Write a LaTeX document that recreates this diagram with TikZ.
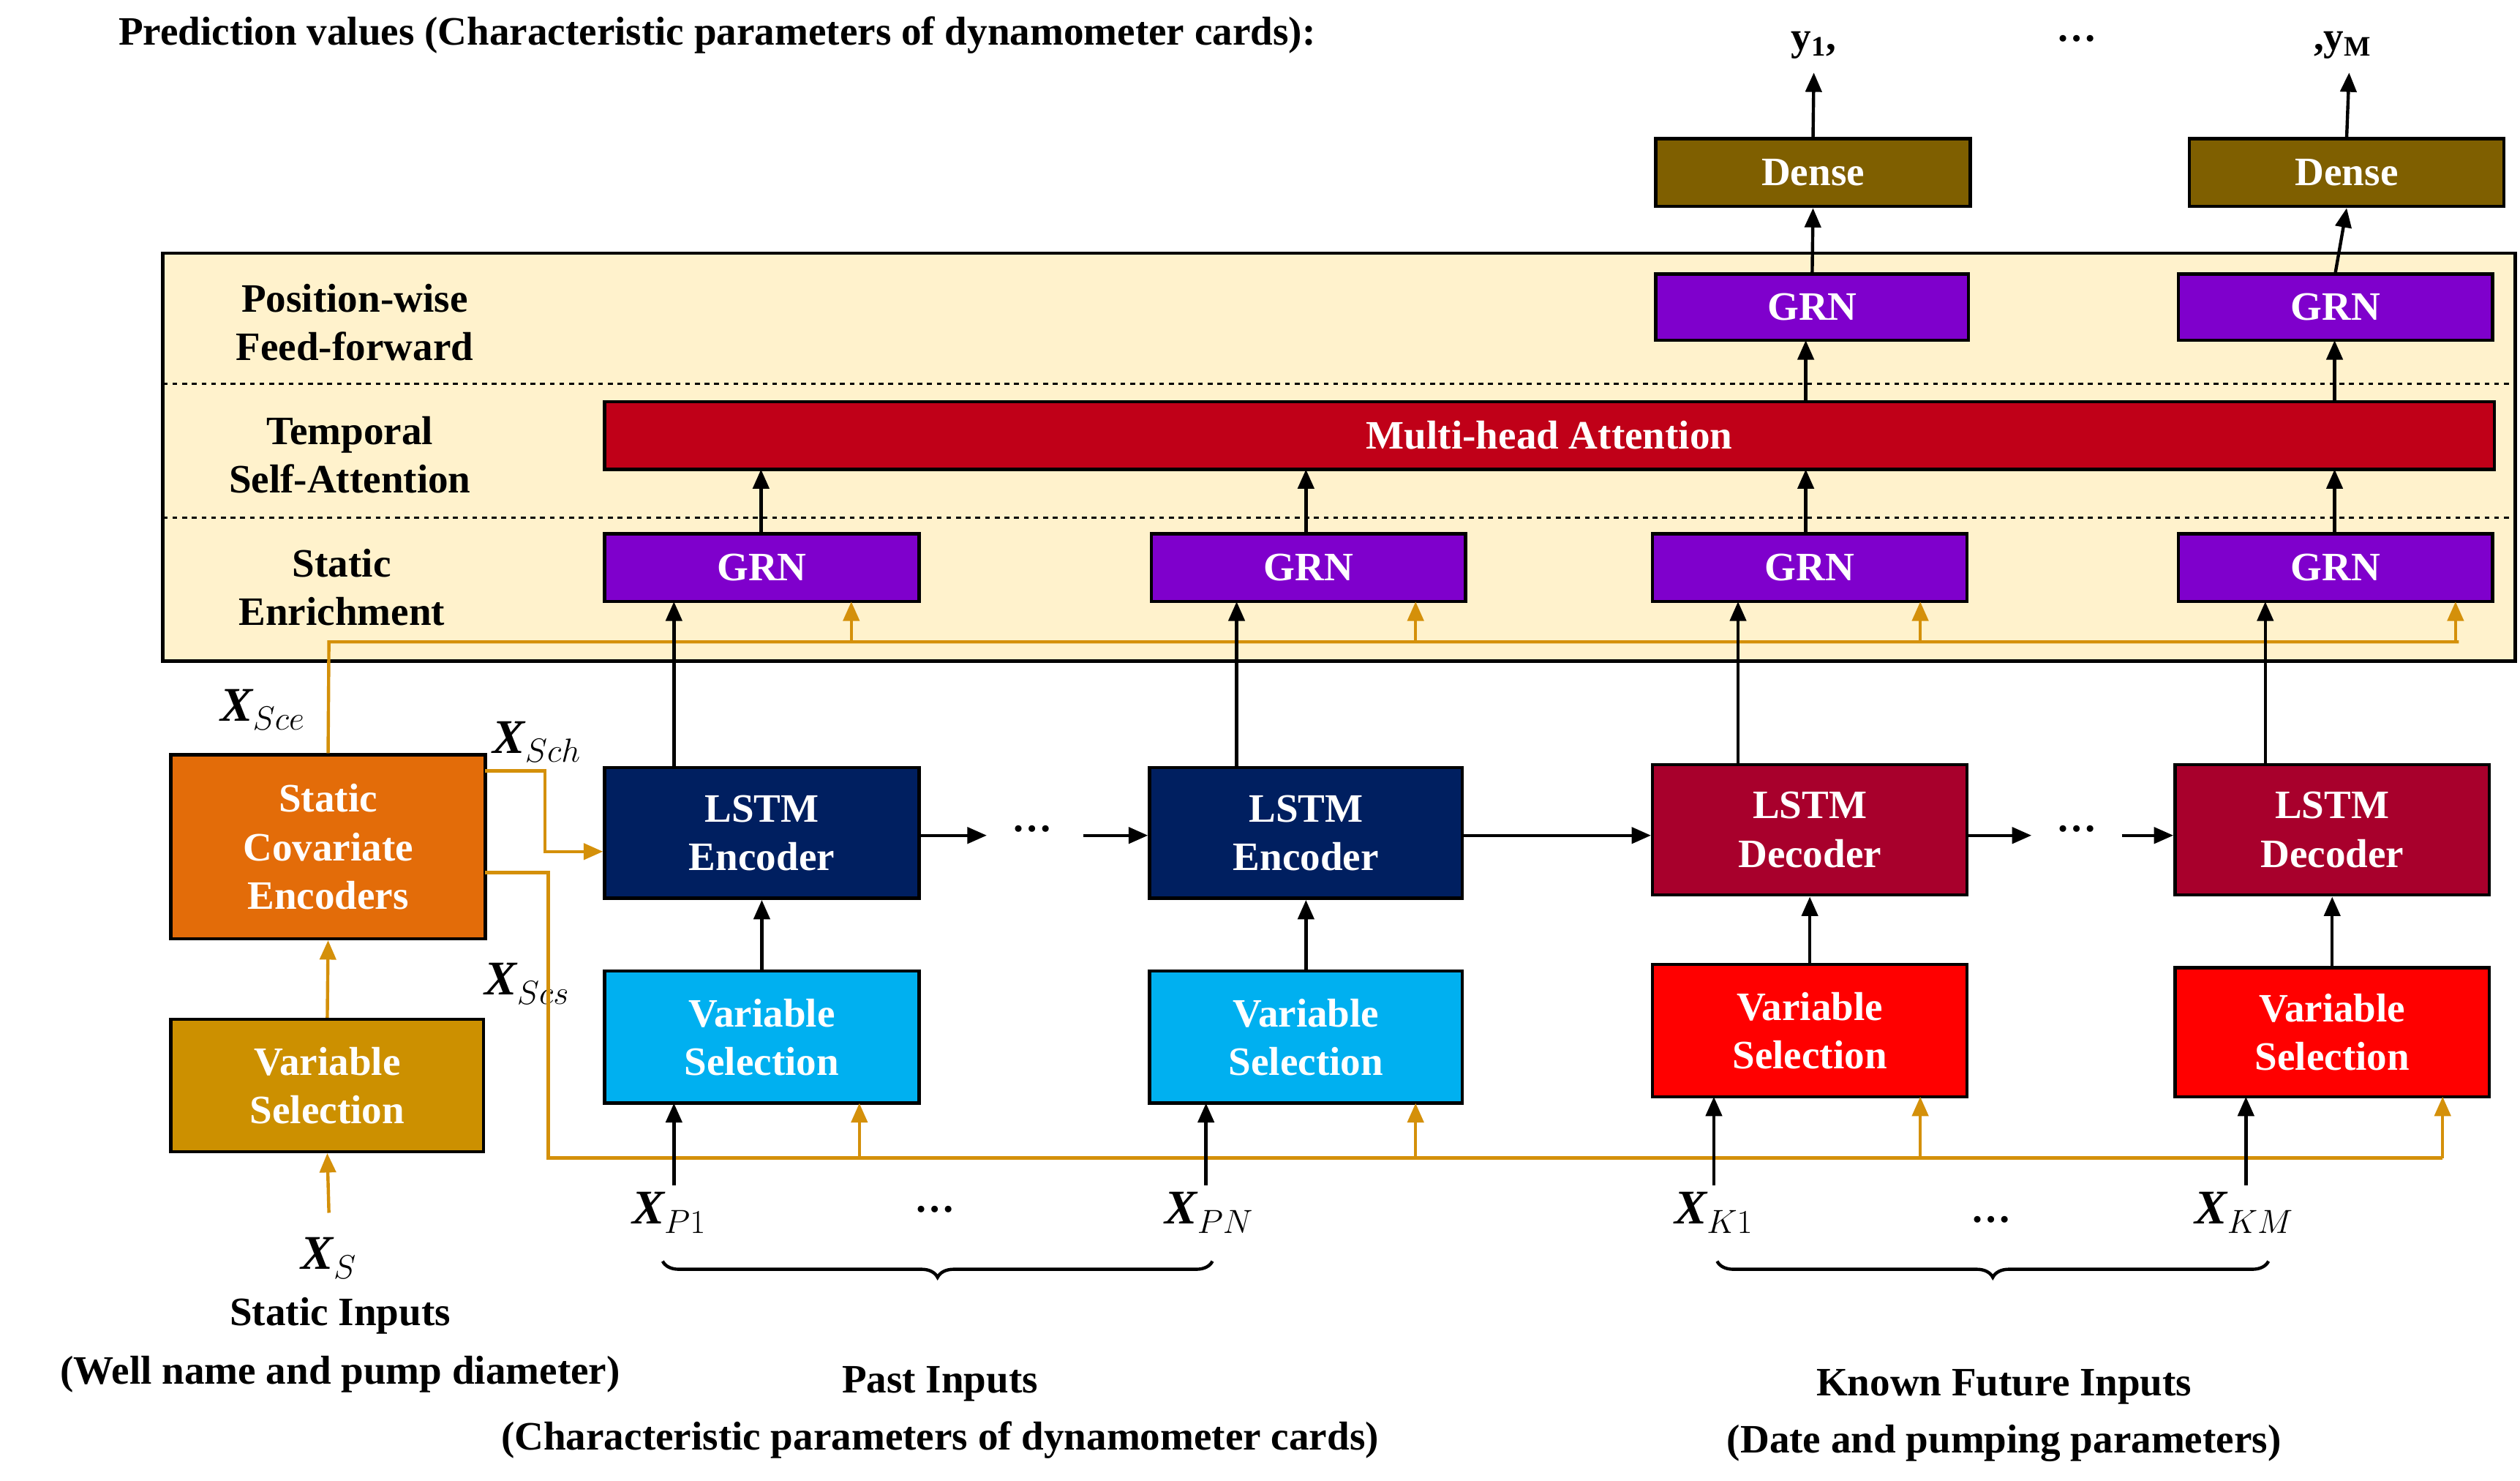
\documentclass[tikz,border=0pt]{standalone}
\usepackage{fontspec}
\setmainfont{Liberation Serif}
\usetikzlibrary{arrows.meta,decorations.pathreplacing}
\definecolor{panel}{HTML}{FFF2CC}
\definecolor{dense}{HTML}{7F5F00}
\definecolor{grn}{HTML}{7F00CC}
\definecolor{mha}{HTML}{C00018}
\definecolor{enc}{HTML}{001F60}
\definecolor{dec}{HTML}{A8002C}
\definecolor{vsp}{HTML}{00B0F0}
\definecolor{vsf}{HTML}{FF0000}
\definecolor{vss}{HTML}{CC9000}
\definecolor{sce}{HTML}{E36C09}
\definecolor{oline}{HTML}{D4900A}
\begin{document}
\begin{tikzpicture}[x=1pt,y=-1pt,
 txt/.style={font=\fontsize{25}{30}\selectfont\bfseries},
 box/.style={draw=black,line width=2pt,text=white,txt,align=center,inner sep=0pt},
 blk/.style={-{Triangle[length=12pt,width=10pt]},line width=2pt},
 org/.style={-{Triangle[length=12pt,width=10pt]},line width=2pt,draw=oline,color=oline},
 lab/.style={font=\fontsize{30}{34}\selectfont\bfseries\itshape}]
\useasboundingbox (0,0) rectangle (1563,918);
% panel
\node[draw=black,line width=2pt,fill=panel,minimum width=1459pt,minimum height=253pt,inner sep=0pt] (panel) at (830.5,283.5) {};
\draw[dashed,line width=1pt] (101,238) -- (1560,238) (101,321) -- (1560,321);
\node[txt,align=center] (l1) at (220,200) {Position-wise\\Feed-forward};
\node[txt,align=center] (l2) at (217,282) {Temporal\\Self-Attention};
\node[txt,align=center] (l3) at (212,364) {Static\\Enrichment};
% title
\node[font=\fontsize{25}{30}\selectfont\bfseries,anchor=west] (title) at (70,22) {Prediction values (Characteristic parameters of dynamometer cards):};
\node[txt] (y1) at (1125,28) {y$_\mathbf{1}$,};
\node[txt] (yd) at (1288,24) {…};
\node[txt] (yM) at (1453,28) {,y$_\mathbf{M}$};
% dense
\node[box,fill=dense,minimum width=195pt,minimum height=42pt] (d1) at (1124.5,107) {Dense};
\node[box,fill=dense,minimum width=195pt,minimum height=42pt] (d2) at (1455.5,107) {Dense};
% GRN top
\node[box,fill=grn,minimum width=194pt,minimum height=41pt] (gt1) at (1124,190.5) {GRN};
\node[box,fill=grn,minimum width=195pt,minimum height=41pt] (gt2) at (1448.5,190.5) {GRN};
% MHA
\node[box,fill=mha,minimum width=1172pt,minimum height=42pt] (mha) at (961,270) {Multi-head Attention};
% GRN row
\foreach \n/\x in {g1/472.5,g2/811.5,g3/1122.5,g4/1448.5}
  \node[box,fill=grn,minimum width=195pt,minimum height=42pt] (\n) at (\x,352) {GRN};
% LSTM
\node[box,fill=enc,minimum width=195pt,minimum height=81pt] (e1) at (472.5,516.5) {LSTM\\Encoder};
\node[box,fill=enc,minimum width=194pt,minimum height=81pt] (e2) at (810,516.5) {LSTM\\Encoder};
\node[box,fill=dec,minimum width=195pt,minimum height=81pt] (c1) at (1122.5,514.5) {LSTM\\Decoder};
\node[box,fill=dec,minimum width=195pt,minimum height=81pt] (c2) at (1446.5,514.5) {LSTM\\Decoder};
% VS
\node[box,fill=vsp,minimum width=195pt,minimum height=82pt] (v1) at (472.5,643) {Variable\\Selection};
\node[box,fill=vsp,minimum width=194pt,minimum height=82pt] (v2) at (810,643) {Variable\\Selection};
\node[box,fill=vsf,minimum width=195pt,minimum height=82pt] (v3) at (1122.5,639) {Variable\\Selection};
\node[box,fill=vsf,minimum width=195pt,minimum height=80pt] (v4) at (1446.5,640) {Variable\\Selection};
% static
\node[box,fill=sce,minimum width=195pt,minimum height=114pt] (sce) at (203.5,525) {Static\\Covariate\\Encoders};
\node[box,fill=vss,minimum width=194pt,minimum height=82pt] (vs) at (203,673) {Variable\\Selection};
\node[lab] (xs) at (204,780) {X$_{S}$};
\node[txt] (si) at (211,816) {Static Inputs};
\node[txt] (si2) at (211,852) {(Well name and pump diameter)};
\node[lab] (xsce) at (163,440) {X$_{Sce}$};
\node[lab] (xsch) at (333,460) {X$_{Sch}$};
\node[lab] (xscs) at (327,610) {X$_{Scs}$};
% inputs
\node[lab] (p1) at (415,752) {X$_{P1}$};
\node[lab] (pn) at (750,752) {X$_{PN}$};
\node[txt] (pd) at (580,750) {…};
\node[lab] (k1) at (1063,752) {X$_{K1}$};
\node[lab] (km) at (1392,752) {X$_{KM}$};
\node[txt] (kd) at (1235,756) {…};
\draw[decorate,decoration={brace,mirror,amplitude=10pt},line width=2pt] (411,782) -- (752,782);
\draw[decorate,decoration={brace,mirror,amplitude=10pt},line width=2pt] (1065,782) -- (1407,782);
\node[txt] (pi) at (583,858) {Past Inputs};
\node[txt] (pi2) at (583,893) {(Characteristic parameters of dynamometer cards)};
\node[txt] (fi) at (1243,860) {Known Future Inputs};
\node[txt] (fi2) at (1243,895) {(Date and pumping parameters)};
% orange lines
\draw[line width=2pt,oline] (sce.north) -- (204,398) -- (1525,398);
\foreach \x/\n in {528/g1,878/g2,1191/g3,1523/g4} \draw[org] (\x,398) -- (\x,373);
\draw[org] (301,478) -- (338,478) -- (338,528) -- (e1.west|-0,528);
\draw[line width=2pt,oline] (301,541) -- (340,541) -- (340,718) -- (1515,718);
\foreach \x/\y in {533/684,878/684,1191/680,1515/680} \draw[org] (\x,718) -- (\x,\y);
\draw[org] (vs.north) -- (sce.south);
\draw[org] (204,752) -- (vs.south);
% black arrows
\draw[blk] (d1.north) -- (1125,45);
\draw[blk] (d2.north) -- (1457,45);
\draw[blk] (gt1.north) -- (d1.south);
\draw[blk] (gt2.north) -- (d2.south);
\draw[blk] (1120,249) -- (1120,211);
\draw[blk] (1448,249) -- (1448,211);
\foreach \x in {472,810,1120,1448} \draw[blk] (\x,331) -- (\x,291);
\draw[blk] (418,476) -- (418,373);
\draw[blk] (767,476) -- (767,373);
\draw[blk] (1078,474) -- (1078,373);
\draw[blk] (1405,474) -- (1405,373);
\draw[blk] (v1.north) -- (e1.south);
\draw[blk] (v2.north) -- (e2.south);
\draw[blk] (v3.north) -- (c1.south);
\draw[blk] (v4.north) -- (c2.south);
\node[txt] (ed) at (640,514) {…};
\node[txt] (cd) at (1288,514) {…};
\draw[blk] (e1.east|-0,518) -- (612,518);
\draw[blk] (672,518) -- (e2.west|-0,518);
\draw[blk] (e2.east|-0,518) -- (c1.west|-0,518);
\draw[blk] (c1.east|-0,518) -- (1260,518);
\draw[blk] (1316,518) -- (c2.west|-0,518);
\draw[blk] (418,735) -- (418,684);
\draw[blk] (748,735) -- (748,684);
\draw[blk] (1063,735) -- (1063,680);
\draw[blk] (1393,735) -- (1393,680);
\end{tikzpicture}
\end{document}
